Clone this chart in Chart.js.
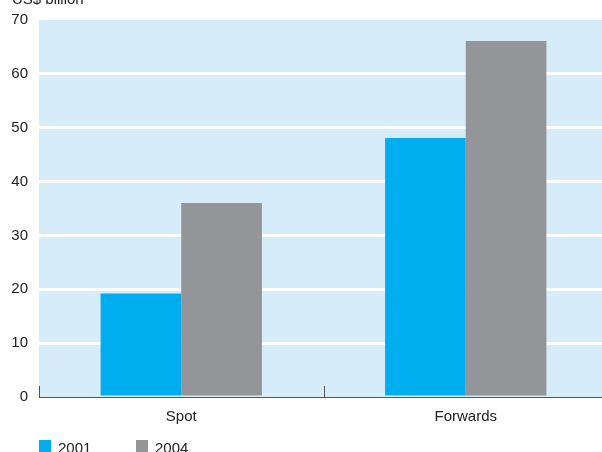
<!DOCTYPE html>
<html lang="en">
<head>
    <meta charset="UTF-8">
    <title>Spot and forwards</title>
    <script src="https://cdn.jsdelivr.net/npm/chart.js"></script>
    <style>
        body { margin: 0; overflow: hidden; background: #fff; }
        #wrap { position: absolute; left: 0; top: 0; width: 608px; height: 452px; }
    </style>
</head>
<body>
<div id="wrap"><canvas id="myChart" width="608" height="452"></canvas></div>

<script>
    const categories = ['Spot', 'Forwards'];
    const years = ['2001', '2004'];
    const values2001 = [19.2, 48.1];
    const values2004 = [36.0, 66.1];
    const yTicks = [0, 10, 20, 30, 40, 50, 60, 70];
    const unitLabel = 'US$ billion';

    const colours = ['#00aeef', '#939598'];
    const font = 'Liberation Sans, Arial, sans-serif';

    // light blue panel behind the bars + little separators + header + legend
    const decor = {
        id: 'decor',
        beforeDraw(chart) {
            const { ctx, chartArea: a } = chart;
            ctx.save();
            ctx.fillStyle = '#d6ecf9';
            ctx.fillRect(a.left, a.top, a.right - a.left, a.bottom - a.top);
            ctx.restore();
        },
        afterDraw(chart) {
            const { ctx, chartArea: a } = chart;
            const x = chart.scales.x;
            const step = x.getPixelForValue(1) - x.getPixelForValue(0);
            ctx.save();
            ctx.strokeStyle = '#555';
            ctx.lineWidth = 1;
            for (let i = 0; i <= categories.length; i++) {
                const px = Math.round(x.getPixelForValue(0) - step / 2 + i * step) + 0.5;
                ctx.beginPath();
                ctx.moveTo(px, a.bottom);
                ctx.lineTo(px, a.bottom - 11);
                ctx.stroke();
            }
            ctx.fillStyle = '#222';
            ctx.font = '15px ' + font;
            ctx.textBaseline = 'alphabetic';
            ctx.fillText(unitLabel, 12, 4);

            // legend
            const legendX = [39, 136];
            chart.data.datasets.forEach((ds, i) => {
                ctx.fillStyle = ds.backgroundColor;
                ctx.fillRect(legendX[i], 440, 12, 12);
                ctx.fillStyle = '#222';
                ctx.fillText(ds.label, legendX[i] + 19, 453);
            });
            ctx.restore();
        }
    };

    new Chart(document.getElementById('myChart'), {
        type: 'bar',
        data: {
            labels: categories,
            datasets: [
                { label: years[0], data: values2001, backgroundColor: colours[0] },
                { label: years[1], data: values2004, backgroundColor: colours[1] }
            ]
        },
        options: {
            responsive: false,
            animation: false,
            layout: { padding: { top: 20, left: 0, right: 0, bottom: 0 } },
            datasets: {
                bar: { categoryPercentage: 0.567, barPercentage: 1.0, borderWidth: 0 }
            },
            plugins: {
                legend: { display: false },
                tooltip: { enabled: false }
            },
            scales: {
                x: {
                    afterFit(scale) { scale.height = 55; },
                    grid: { display: false },
                    border: { display: true, color: '#555', width: 1 },
                    ticks: { color: '#222', font: { family: font, size: 15 }, padding: 3 }
                },
                y: {
                    min: 0,
                    max: 70,
                    afterFit(scale) { scale.width = 39; },
                    afterBuildTicks(scale) { scale.ticks = yTicks.map(v => ({ value: v })); },
                    grid: {
                        color: (c) => c.tick && (c.tick.value === 0 || c.tick.value === 70) ? 'rgba(0,0,0,0)' : '#ffffff',
                        lineWidth: 3,
                        drawTicks: false
                    },
                    border: { display: false },
                    ticks: { color: '#222', font: { family: font, size: 15 }, padding: 11 }
                }
            }
        },
        plugins: [decor]
    });
</script>
</body>
</html>
